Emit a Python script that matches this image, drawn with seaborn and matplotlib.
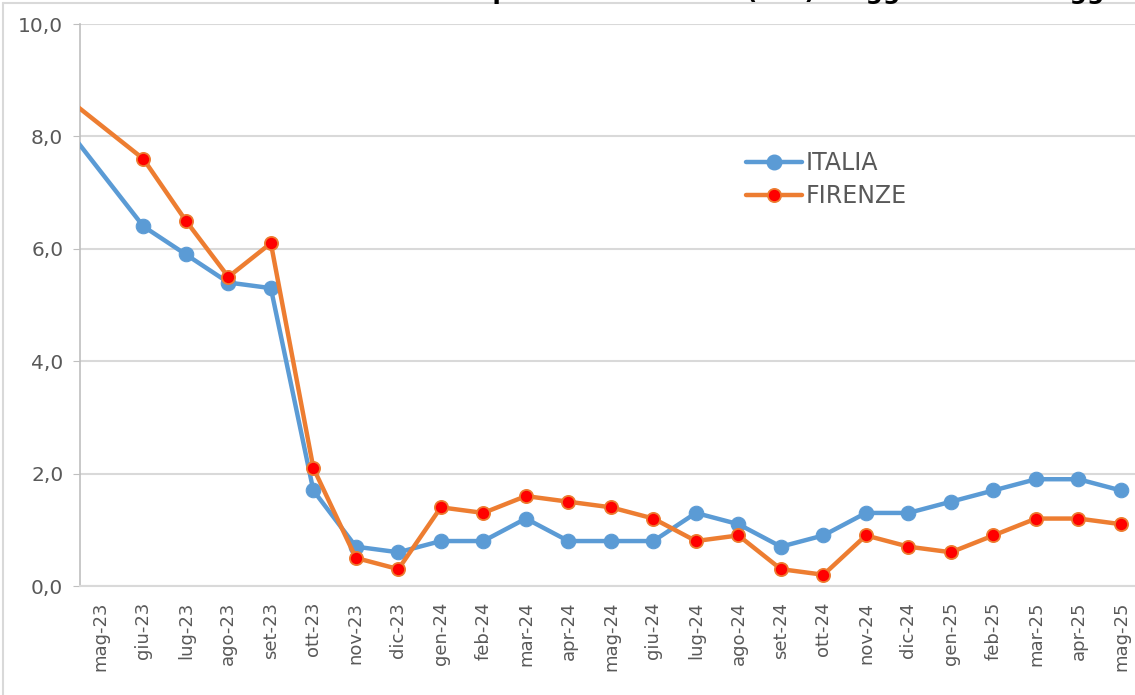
import numpy as np
import pandas as pd
import seaborn as sns
import matplotlib.pyplot as plt
from matplotlib.lines import Line2D

# months (apr-23 only feeds the line that enters from the left edge)
months = ["apr-23", "mag-23", "giu-23", "lug-23", "ago-23", "set-23", "ott-23", "nov-23", "dic-23",
          "gen-24", "feb-24", "mar-24", "apr-24", "mag-24", "giu-24", "lug-24", "ago-24",
          "set-24", "ott-24", "nov-24", "dic-24", "gen-25", "feb-25", "mar-25", "apr-25", "mag-25"]
italia = [8.34, 7.37, 6.4, 5.9, 5.4, 5.3, 1.7, 0.7, 0.6, 0.8, 0.8, 1.2, 0.8, 0.8, 0.8, 1.3, 1.1,
          0.7, 0.9, 1.3, 1.3, 1.5, 1.7, 1.9, 1.9, 1.7]
firenze = [8.80, 8.20, 7.6, 6.5, 5.5, 6.1, 2.1, 0.5, 0.3, 1.4, 1.3, 1.6, 1.5, 1.4, 1.2, 0.8, 0.9,
           0.3, 0.2, 0.9, 0.7, 0.6, 0.9, 1.2, 1.2, 1.1]
tick_labels = months[1:]
y_ticks = [0, 2, 4, 6, 8, 10]

df = pd.DataFrame({"pos": np.arange(len(months)) - 1, "ITALIA": italia, "FIRENZE": firenze})

blue = "#5B9BD5"
orange = "#ED7D31"
grey_txt = "#595959"

sns.set_style("white")
plt.rcParams['font.family'] = ['DejaVu Sans']

fig = plt.figure(figsize=(11.35, 6.95), dpi=100)
ax = fig.add_axes([80 / 1135, 109 / 695, 1055 / 1135, 562 / 695])

marked = list(range(2, len(months)))
sns.lineplot(data=df, x="pos", y="ITALIA", ax=ax, color=blue, linewidth=3.2,
             marker="o", markersize=10.5, markeredgecolor=blue, markerfacecolor=blue,
             markevery=marked, zorder=3)
sns.lineplot(data=df, x="pos", y="FIRENZE", ax=ax, color=orange, linewidth=3.2,
             marker="o", markersize=9.5, markeredgecolor=orange, markerfacecolor="#FF0000",
             markeredgewidth=1.3, markevery=marked, zorder=4)

ax.set_xlim(-0.49, 24.33)
ax.set_ylim(0, 10)
ax.set_yticks(y_ticks)
ax.set_yticklabels([f"{v:.1f}".replace(".", ",") for v in y_ticks], fontsize=14.5, color=grey_txt)
ax.set_xticks(range(len(tick_labels)))
ax.set_xticklabels(tick_labels, rotation=90, fontsize=13, color=grey_txt)
ax.set_xlabel("")
ax.set_ylabel("")

ax.yaxis.grid(True, color="#D9D9D9", linewidth=1.5)
ax.set_axisbelow(True)
for s in ["top", "right"]:
    ax.spines[s].set_visible(False)
ax.spines["bottom"].set_color("#D9D9D9")
ax.spines["bottom"].set_linewidth(1.5)
ax.spines["left"].set_color("#BFBFBF")
ax.spines["left"].set_linewidth(1.2)
ax.tick_params(axis="y", left=True, length=5, color="#BFBFBF", pad=7)
ax.tick_params(axis="x", bottom=False, pad=8)

handles = [Line2D([], [], color=blue, linewidth=3.2, marker="o", markersize=10.5,
                  markerfacecolor=blue, markeredgecolor=blue),
           Line2D([], [], color=orange, linewidth=3.2, marker="o", markersize=9.5,
                  markerfacecolor="#FF0000", markeredgecolor=orange, markeredgewidth=1.3)]
leg = fig.legend(handles, ["ITALIA", "FIRENZE"], loc="upper left",
                 bbox_to_anchor=(734 / 1135, 1 - 139 / 695), frameon=False, fontsize=17,
                 handlelength=2.4, handletextpad=0.15, labelspacing=0.4, borderpad=0)
for t in leg.get_texts():
    t.set_color(grey_txt)

# chart border and clipped title
fig.add_artist(Line2D([3 / 1135, 3 / 1135], [0, 1 - 3 / 695], color="#D9D9D9", linewidth=1.5))
fig.add_artist(Line2D([3 / 1135, 1], [1 - 3 / 695, 1 - 3 / 695], color="#D9D9D9", linewidth=1.5))
fig.text(351 / 1135, 1 + 1.5 / 695, "Indice dei prezzi al consumo (NIC) maggio 2023 - maggio 2025",
         fontsize=17.5, fontweight="bold", color="black", va="baseline", ha="left")

fig.savefig("out.png", dpi=100)
